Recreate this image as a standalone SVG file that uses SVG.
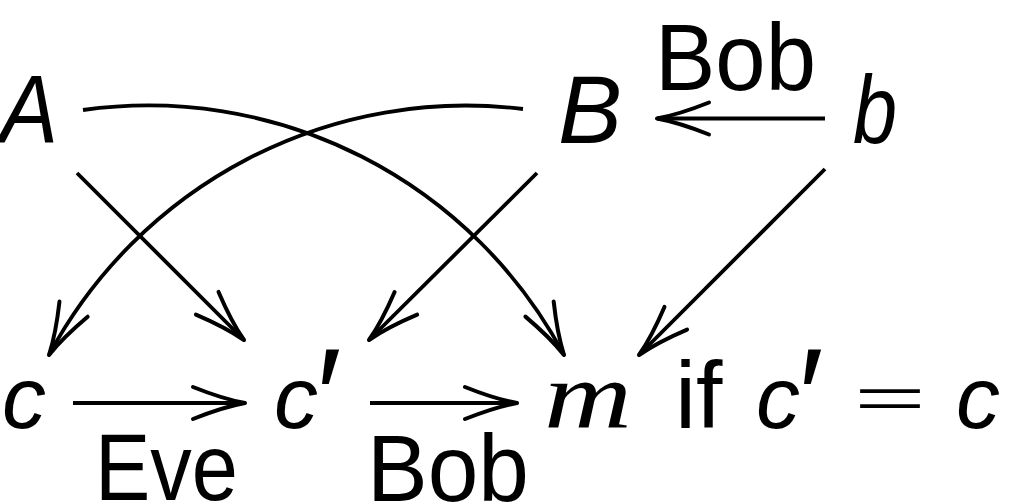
<svg xmlns="http://www.w3.org/2000/svg" width="1009" height="503" viewBox="0 0 1009 503">
<style>
.c{fill:none;stroke:#000;stroke-width:3.8;stroke-linecap:butt}
.mi{font-family:"Liberation Sans",sans-serif;font-style:italic;fill:#000}
.ms{font-family:"Liberation Serif",serif;font-style:italic;fill:#000}
.t{font-family:"Liberation Sans",sans-serif;fill:#000}
.pr{font-family:"Liberation Sans",sans-serif;font-style:italic;fill:#000}
.eq{font-family:"DejaVu Sans",sans-serif;font-weight:200;fill:#000}
</style>
<defs>
<marker id="ah" markerUnits="userSpaceOnUse" markerWidth="80" markerHeight="60" viewBox="-60 -30 80 60" refX="0" refY="0" orient="auto" overflow="visible">
<path d="M-52,-16 Q-22,-4 0,0 M-52,16 Q-22,4 0,0" fill="none" stroke="#000" stroke-width="4" stroke-linecap="round"/>
</marker>
</defs>
<rect width="1009" height="503" fill="#fff"/>
<g id="connectors">
<path class="c" d="M825,118.5 L657,118.5" marker-end="url(#ah)"/>
<path class="c" d="M77,173 L244,340" marker-end="url(#ah)"/>
<path class="c" d="M537,173 L369,340" marker-end="url(#ah)"/>
<path class="c" d="M825,169 L639,355" marker-end="url(#ah)"/>
<path class="c" d="M83,110 A471,471 0 0 1 564,355" marker-end="url(#ah)"/>
<path class="c" d="M523,109 A473,473 0 0 0 49,355" marker-end="url(#ah)"/>
<path class="c" d="M73,403 L245,403" marker-end="url(#ah)"/>
<path class="c" d="M370,403 L517,403" marker-end="url(#ah)"/>
<text class="t" x="655" y="90" font-size="95" textLength="161" lengthAdjust="spacingAndGlyphs">Bob</text>
<text class="t" x="95" y="500" font-size="95" textLength="143" lengthAdjust="spacingAndGlyphs">Eve</text>
<text class="t" x="367" y="501" font-size="95" textLength="162" lengthAdjust="spacingAndGlyphs">Bob</text>
</g>
<g id="node-A"><text class="mi" x="0" y="142" font-size="96" textLength="58" lengthAdjust="spacingAndGlyphs">A</text></g>
<g id="node-B"><text class="mi" x="558" y="143" font-size="96">B</text></g>
<g id="node-b"><text class="mi" x="853" y="143" font-size="96" textLength="44" lengthAdjust="spacingAndGlyphs">b</text></g>
<g id="node-c"><text class="mi" x="2" y="428" font-size="88">c</text></g>
<g id="node-cprime"><text class="mi" x="274" y="428" font-size="88">c<tspan class="pr" x="310" y="443" font-size="135">′</tspan></text></g>
<g id="node-m">
<text class="ms" x="544" y="428" font-size="95" textLength="88" lengthAdjust="spacingAndGlyphs">m</text>
<text class="t" x="675" y="428" font-size="95">if</text>
<text class="mi" x="756" y="428" font-size="88">c<tspan class="pr" x="792" y="443" font-size="135">′</tspan></text>
<text class="eq" x="850" y="428" font-size="95" textLength="80" lengthAdjust="spacingAndGlyphs">=</text>
<text class="mi" x="956" y="428" font-size="88">c</text>
</g>
</svg>
